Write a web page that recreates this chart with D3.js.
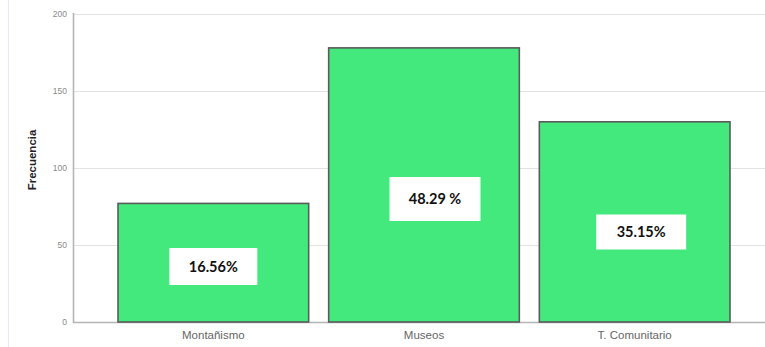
<!DOCTYPE html>
<html>
<head>
<meta charset="utf-8">
<script src="https://cdn.jsdelivr.net/npm/d3@7"></script>
<style>
  html, body { margin: 0; padding: 0; background: #fff; }
  svg { display: block; }
</style>
</head>
<body>
<svg id="chart" width="765" height="347"></svg>
<script>
// Frequency per activity type
const categories = ["Montañismo", "Museos", "T. Comunitario"];
const frequencies = [77, 178, 130];
const percentLabels = ["16.56%", "48.29 %", "35.15%"];
const yTicks = [0, 50, 100, 150, 200];
const yTitle = "Frecuencia";

// Placement of the white percentage boxes: centre offset from the bar centre (px)
// and box size (px)
const boxLayout = [
  { dx: 0,  cy: 266.5, w: 88, h: 37 },
  { dx: 11, cy: 199,   w: 91, h: 44 },
  { dx: 6.5, cy: 232,  w: 90, h: 35 }
];

const svg = d3.select("#chart");
const W = 765, H = 347;
const axisX = 73, baseY = 322, topY = 14;

const x = d3.scaleBand()
  .domain(categories)
  .range([118, 730])
  .paddingInner(0.095)
  .paddingOuter(0);

const y = d3.scaleLinear()
  .domain([0, 200])
  .range([baseY, topY]);

// faint frame line on the far left
svg.append("line")
  .attr("x1", 8.5).attr("x2", 8.5)
  .attr("y1", 0).attr("y2", H)
  .attr("stroke", "#e6ecf6").attr("stroke-width", 1);

// horizontal gridlines
svg.append("g")
  .selectAll("line")
  .data(yTicks.filter(d => d > 0))
  .join("line")
  .attr("x1", axisX).attr("x2", W)
  .attr("y1", d => Math.round(y(d)) + 0.5)
  .attr("y2", d => Math.round(y(d)) + 0.5)
  .attr("stroke", "#e3e3e3").attr("stroke-width", 1.2);

// y axis
const yAxis = d3.axisLeft(y).tickValues(yTicks).tickSize(0).tickPadding(6);
const gy = svg.append("g")
  .attr("transform", `translate(${axisX},0)`)
  .call(yAxis);
gy.select(".domain").remove();
gy.selectAll("text")
  .attr("font-family", "Liberation Sans, Arial, sans-serif")
  .attr("font-size", 8.5)
  .attr("fill", "#8a8a8a");

// axis lines
svg.append("line")
  .attr("x1", axisX + 0.5).attr("x2", axisX + 0.5)
  .attr("y1", topY - 1).attr("y2", baseY + 1)
  .attr("stroke", "#b5b5b5").attr("stroke-width", 1.6);
svg.append("line")
  .attr("x1", axisX).attr("x2", W)
  .attr("y1", baseY + 0.5).attr("y2", baseY + 0.5)
  .attr("stroke", "#b5b5b5").attr("stroke-width", 1.6);

// y title
svg.append("text")
  .attr("transform", `translate(36,160) rotate(-90)`)
  .attr("text-anchor", "middle")
  .attr("font-family", "Liberation Sans, Arial, sans-serif")
  .attr("font-size", 11.5)
  .attr("font-weight", "bold")
  .attr("fill", "#222")
  .text(yTitle);

// bars
svg.append("g")
  .selectAll("rect")
  .data(categories.map((c, i) => ({ c, v: frequencies[i] })))
  .join("rect")
  .attr("x", d => x(d.c))
  .attr("y", d => y(d.v))
  .attr("width", x.bandwidth())
  .attr("height", d => baseY - y(d.v))
  .attr("fill", "#43e97d")
  .attr("stroke", "#5b5b5b")
  .attr("stroke-width", 1.6);

// x axis labels
const xAxis = d3.axisBottom(x).tickSize(0).tickPadding(9);
const gx = svg.append("g")
  .attr("transform", `translate(0,${baseY})`)
  .call(xAxis);
gx.select(".domain").remove();
gx.selectAll("text")
  .attr("font-family", "Liberation Sans, Arial, sans-serif")
  .attr("font-size", 11.5)
  .attr("fill", "#666");

// percentage boxes
const boxes = svg.append("g")
  .selectAll("g")
  .data(categories.map((c, i) => ({ c, label: percentLabels[i], l: boxLayout[i] })))
  .join("g")
  .attr("transform", d => `translate(${x(d.c) + x.bandwidth() / 2 + d.l.dx},${d.l.cy})`);

boxes.append("rect")
  .attr("x", d => -d.l.w / 2)
  .attr("y", d => -d.l.h / 2)
  .attr("width", d => d.l.w)
  .attr("height", d => d.l.h)
  .attr("fill", "#fff");

boxes.append("text")
  .attr("text-anchor", "middle")
  .attr("dy", "0.36em")
  .attr("font-family", "Lato, Liberation Sans, sans-serif")
  .attr("font-size", 14.5)
  .attr("font-weight", "bold")
  .attr("fill", "#111")
  .text(d => d.label);
</script>
</body>
</html>
